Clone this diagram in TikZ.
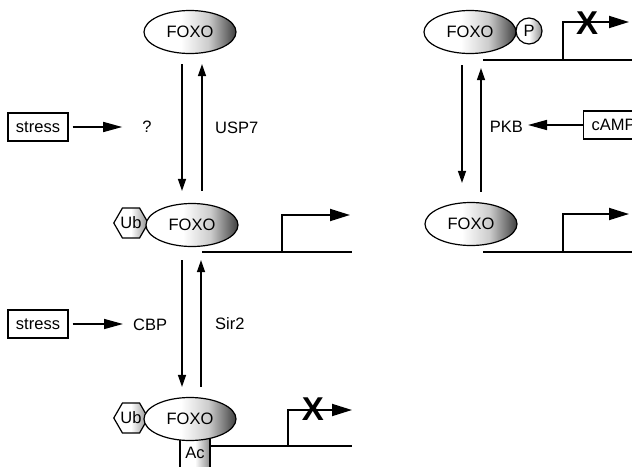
\documentclass[tikz,border=0pt]{standalone}
\usepackage{fontspec}
\setmainfont{Liberation Sans}
\usetikzlibrary{shapes.geometric,arrows.meta,calc}

% white on the left, darkening towards the right edge
\pgfdeclarehorizontalshading{foxoshade}{100bp}{color(0bp)=(white); color(25bp)=(white); color(45bp)=(white); color(60bp)=(black!20); color(75bp)=(black!75); color(100bp)=(black!75)}
\pgfdeclarehorizontalshading{lightshade}{100bp}{color(0bp)=(white); color(25bp)=(white); color(50bp)=(white); color(75bp)=(black!45); color(100bp)=(black!45)}

\begin{document}
\begin{tikzpicture}[x=1pt,y=-1pt,font=\fontsize{16.5}{19}\selectfont,
  foxo/.style={ellipse,draw,line width=1.2pt,shading=foxoshade,minimum width=92pt,minimum height=43pt,inner sep=0pt},
  ubhex/.style={regular polygon,regular polygon sides=6,draw,line width=1.2pt,shading=lightshade,minimum size=34pt,inner sep=0pt},
  pcirc/.style={circle,draw,line width=1.2pt,shading=lightshade,minimum size=26pt,inner sep=0pt},
  acbox/.style={rectangle,draw,line width=1.2pt,shading=lightshade,minimum width=30pt,minimum height=48pt,inner sep=0pt},
  sigbox/.style={rectangle,draw,line width=1.3pt,minimum width=60pt,minimum height=28pt,inner sep=0pt},
  lbl/.style={inner sep=0pt},
  varr/.style={line width=1.5pt,-{Triangle[length=12pt,width=8pt]}},
  harr/.style={line width=1.5pt,-{Triangle[length=19pt,width=10pt]}},
  dna/.style={line width=1.8pt},
  prom/.style={line width=1.8pt,-{Triangle[length=20pt,width=12pt]}},
  xmark/.style={inner sep=0pt,font=\fontsize{33}{33}\selectfont\bfseries}]

\useasboundingbox (0,0) rectangle (632,466);
\clip (0,0) rectangle (632,466);

% ---- left column: FOXO, Ub-FOXO, Ub-FOXO-Ac ----
\node[foxo] (f1) at (190,32) {FOXO};

\node[ubhex] (u2) at (131,223) {Ub};
\node[foxo] (f2) at (192,225) {FOXO};

\node[acbox] (ac) at (195,454) {};
\node[lbl] (actxt) at (195,453) {Ac};
\node[ubhex] (u3) at (131,418) {Ub};
\node[foxo] (f3) at (190,419) {FOXO};

% interconversion arrows
\draw[varr] ([xshift=-8pt,yshift=-10pt]f1.south) -- ([xshift=-10pt,yshift=12pt]f2.north);
\draw[varr] ([xshift=10pt,yshift=12pt]f2.north) -- ([xshift=12pt,yshift=-10pt]f1.south);
\draw[varr] ([xshift=-10pt,yshift=-13pt]f2.south) -- ([xshift=-8pt,yshift=10pt]f3.north);
\draw[varr] ([xshift=11pt,yshift=10pt]f3.north) -- ([xshift=9pt,yshift=-13pt]f2.south);

% stress inputs and enzymes
\node[sigbox] (s1) at (38,127) {stress};
\node[lbl] (q) at (147,127) {?};
\node[lbl,anchor=west] (usp) at (215,128) {USP7};
\draw[harr] ([xshift=4pt]s1.east) -- ([xshift=-20pt]q.west |- s1.east);

\node[sigbox] (s2) at (38,324) {stress};
\node[lbl,anchor=west] (cbp) at (133,325) {CBP};
\node[lbl,anchor=west] (sir) at (215,324) {Sir2};
\draw[harr] ([xshift=4pt]s2.east) -- ([xshift=-10pt]cbp.west |- s2.east);

% promoters, left column
\coordinate (d2a) at (202,252); \coordinate (d2b) at (352,252);
\coordinate (p2a) at (282,252); \coordinate (p2b) at (282,215); \coordinate (p2c) at (350,215);
\draw[dna] (d2a) -- (d2b);
\draw[prom] (p2a) -- (p2b) -- (p2c);

\coordinate (d3a) at (210,446); \coordinate (d3b) at (352,446);
\coordinate (p3a) at (288,446); \coordinate (p3b) at (288,410); \coordinate (p3c) at (352,410);
\draw[dna] (d3a) -- (d3b);
\draw[prom] (p3a) -- (p3b) -- (p3c);
\node[xmark] (x3) at (313,409) {X};

% ---- right column: FOXO-P and FOXO ----
\node[foxo] (r1) at (470,32) {FOXO};
\node[pcirc] (pp) at (529,31) {P};
\node[foxo] (r2) at (471,224) {FOXO};

\draw[varr] ([xshift=-8pt,yshift=-11pt]r1.south) -- ([xshift=-9pt,yshift=19pt]r2.north);
\draw[varr] ([xshift=10pt,yshift=10pt]r2.north) -- ([xshift=11pt,yshift=-14pt]r1.south);

\node[sigbox,anchor=west,minimum width=0pt,inner xsep=8pt] (camp) at (583,125) {cAMP};
\node[lbl,anchor=east] (pkb) at (523,127) {PKB};
\draw[harr] (camp.west) -- ([xshift=5pt]pkb.east |- camp.west);

\coordinate (e1a) at (483,60); \coordinate (e1b) at (640,60);
\coordinate (q1a) at (563,60); \coordinate (q1b) at (563,22); \coordinate (q1c) at (629,22);
\draw[dna] (e1a) -- (e1b);
\draw[prom] (q1a) -- (q1b) -- (q1c);
\node[xmark] (x1) at (587,23) {X};

\coordinate (e2a) at (483,252); \coordinate (e2b) at (640,252);
\coordinate (q2a) at (563,252); \coordinate (q2b) at (563,214); \coordinate (q2c) at (629,214);
\draw[dna] (e2a) -- (e2b);
\draw[prom] (q2a) -- (q2b) -- (q2c);
\end{tikzpicture}
\end{document}
